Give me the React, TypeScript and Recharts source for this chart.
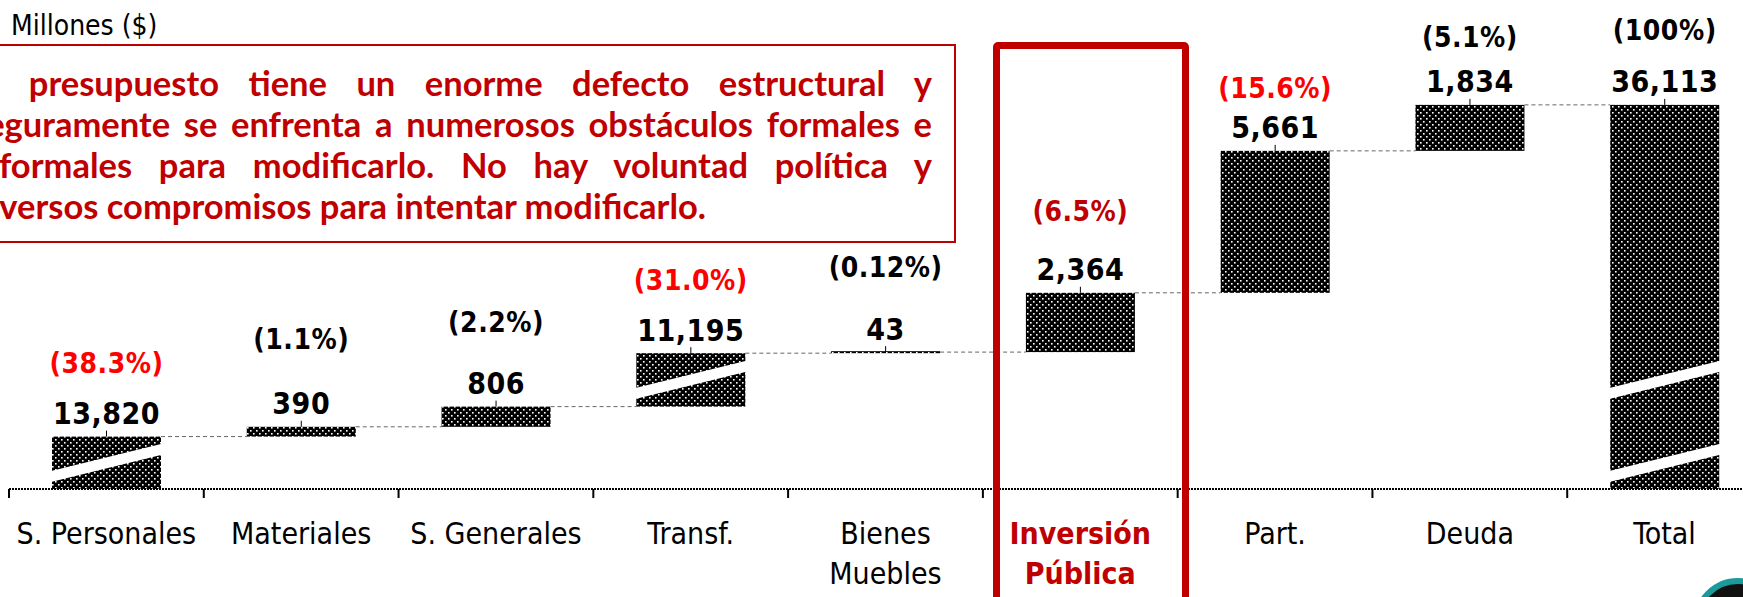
import { BarChart, Bar, XAxis, YAxis, LabelList } from "recharts"

// Presupuesto de egresos por capitulo, millones de pesos
const categorias = ["S. Personales", "Materiales", "S. Generales", "Transf.", "Bienes\nMuebles", "Inversión\nPública", "Part.", "Deuda", "Total"]
const montos = [13820, 390, 806, 11195, 43, 2364, 5661, 1834, 36113]
const participacion = ["(38.3%)", "(1.1%)", "(2.2%)", "(31.0%)", "(0.12%)", "(6.5%)", "(15.6%)", "(5.1%)", "(100%)"]
// tramo que se omite en las barras partidas (corte del eje)
const corte = [11730, 0, 0, 9065, 0, 0, 0, 0, 0]

// colores de las etiquetas de porcentaje
const colorPct: Record<string, string> = {
  "S. Personales": "#ff0000",
  "Transf.": "#ff0000",
  "Part.": "#ff0000",
  "Inversión\nPública": "#c00000",
}
// separacion (px) entre etiqueta de monto y de porcentaje
const separacionPct = [50, 64, 61, 50, 62, 58, 39, 44, 51]

const W = 1762
const H = 597
const M_LEFT = 9
const BANDA = (W - M_LEFT) / categorias.length
const ANCHO_BARRA = 109
const FUENTE = "'DejaVu Sans Condensed', 'DejaVu Sans', sans-serif"

const n = categorias.length
const totalCorte = corte.reduce((a, b) => a + b, 0)
let acumulado = 0
const posCortes: number[] = []
const datos = categorias.map((cat, i) => {
  if (i === n - 1) {
    return { cat, base: 0, visible: montos[i] - totalCorte, cortes: [...posCortes], monto: montos[i] }
  }
  const visible = montos[i] - corte[i]
  const base = acumulado
  const cortes = corte[i] > 0 ? [base + visible / 2] : []
  posCortes.push(...cortes)
  acumulado += visible
  return { cat, base, visible, cortes, monto: montos[i] }
})

const BarraPunteada = (props: any) => {
  const { x, y, width, height, index, payload } = props
  const k = height / payload.visible
  const abajo = y + height
  const h = Math.max(height, 2)
  const s = 0.25
  const t = 11
  return (
    <g>
      <rect x={x} y={abajo - h} width={width} height={h} fill="url(#puntos)" />
      {payload.cortes.map((c: number, j: number) => {
        const yc = abajo - (c - payload.base) * k
        const d = (s * width) / 2
        const pts = [
          [x - 1, yc + d - t / 2],
          [x + width + 1, yc - d - t / 2],
          [x + width + 1, yc - d + t / 2],
          [x - 1, yc + d + t / 2],
        ]
        return <polygon key={j} points={pts.map((p) => p.join(",")).join(" ")} fill="#fff" />
      })}
      <line x1={x + width / 2} x2={x + width / 2} y1={y} y2={y - 6} stroke="#000" strokeWidth={1} />
      {index < n - 1 && (
        <line x1={x + width} x2={x + BANDA} y1={y} y2={y} stroke="#666" strokeWidth={1} strokeDasharray="4 3" />
      )}
    </g>
  )
}

const Etiquetas = (props: any) => {
  const { x, y, width, index } = props
  const cx = x + width / 2
  const yMonto = y - 23
  const yPct = yMonto - separacionPct[index]
  return (
    <g fontFamily={FUENTE} fontWeight="bold" textAnchor="middle">
      <text x={cx} y={yMonto} dominantBaseline="central" fontSize={30} fill="#000" letterSpacing={0.5}>
        {montos[index].toLocaleString("en-US")}
      </text>
      <text x={cx} y={yPct} dominantBaseline="central" fontSize={28} fill={colorPct[categorias[index]] || "#000"} letterSpacing={0.5}>
        {participacion[index]}
      </text>
    </g>
  )
}

const TickCategoria = (props: any) => {
  const { x, y, payload } = props
  const lineas = String(payload.value).split("\n")
  const destacada = payload.value === "Inversión\nPública"
  return (
    <g>
      <line x1={x - BANDA / 2} x2={x - BANDA / 2} y1={y} y2={y + 9} stroke="#000" strokeWidth={2} />
      <text
        x={x}
        y={y + 55}
        textAnchor="middle"
        fontFamily={FUENTE}
        fontSize={30}
        fontWeight={destacada ? "bold" : "normal"}
        fill={destacada ? "#c00000" : "#000"}
      >
        {lineas.map((l, i) => (
          <tspan key={i} x={x} dy={i === 0 ? 0 : 40}>
            {l}
          </tspan>
        ))}
      </text>
    </g>
  )
}

const lineasTexto = [
  "El presupuesto tiene un enorme defecto estructural y",
  "seguramente se enfrenta a numerosos obstáculos formales e",
  "informales para modificarlo. No hay voluntad política y",
  "diversos compromisos para intentar modificarlo.",
]

export default function App() {
  return (
    <div style={{ position: "absolute", left: 0, top: 0, width: 1743, height: H, overflow: "hidden", background: "#fff" }}>
      <BarChart width={W} height={H} data={datos} margin={{ top: 0, right: 0, left: M_LEFT, bottom: 0 }} barSize={ANCHO_BARRA}>
        <defs>
          <pattern id="puntos" width="6" height="6" patternUnits="userSpaceOnUse">
            <rect width="6" height="6" fill="#000" />
            <rect x="1" y="1" width="1.6" height="1.6" fill="#fff" />
            <rect x="4" y="4" width="1.6" height="1.6" fill="#fff" />
          </pattern>
        </defs>
        <XAxis
          dataKey="cat"
          interval={0}
          tickLine={false}
          tickSize={0}
          tickMargin={0}
          height={108}
          axisLine={{ stroke: "#000", strokeWidth: 2, strokeDasharray: "2 1" }}
          tick={<TickCategoria />}
        />
        <YAxis
          width={0}
          domain={[0, 19500]}
          tick={false}
          tickLine={false}
          axisLine={{ stroke: "#000", strokeWidth: 1, strokeDasharray: "2 2" }}
        />
        <Bar dataKey="base" stackId="w" fill="transparent" isAnimationActive={false} />
        <Bar dataKey="visible" stackId="w" shape={<BarraPunteada />} isAnimationActive={false}>
          <LabelList dataKey="visible" content={<Etiquetas />} />
        </Bar>
      </BarChart>

      <div style={{ position: "absolute", left: 11, top: 8, fontFamily: FUENTE, fontSize: 28, lineHeight: "36px", color: "#000" }}>
        Millones ($)
      </div>

      <div
        style={{
          position: "absolute",
          left: -50,
          top: 44,
          width: 1006,
          height: 199,
          border: "2px solid #c00000",
          boxSizing: "border-box",
          background: "#fff",
          padding: "16px 22px 0 19px",
          fontFamily: "Lato, sans-serif",
          fontWeight: "bold",
          fontSize: 34.5,
          lineHeight: "41px",
          color: "#c00000",
        }}
      >
        {lineasTexto.map((l, i) => (
          <div
            key={i}
            style={{
              textAlign: i < lineasTexto.length - 1 ? "justify" : "left",
              textAlignLast: i < lineasTexto.length - 1 ? "justify" : "left",
              whiteSpace: "nowrap",
            }}
          >
            {l}
          </div>
        ))}
      </div>

      <div
        style={{
          position: "absolute",
          left: 993,
          top: 42,
          width: 196,
          height: 620,
          border: "7px solid #c00000",
          borderRadius: 5,
          boxSizing: "border-box",
        }}
      />

      <div
        style={{
          position: "absolute",
          left: 1693,
          top: 578,
          width: 90,
          height: 90,
          borderRadius: "50%",
          border: "6px solid #1a9a9a",
          background: "#111",
          boxSizing: "border-box",
        }}
      />
    </div>
  )
}
